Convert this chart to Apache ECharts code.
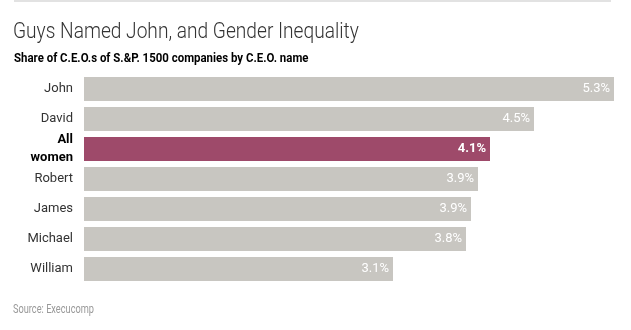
<!DOCTYPE html>
<html><head><meta charset="utf-8">
<script src="https://cdn.jsdelivr.net/npm/echarts@6/dist/echarts.min.js"></script>
<style>html,body{margin:0;padding:0;background:#fff}#c{width:631px;height:330px}</style>
</head><body><div id="c"></div>
<script>
const categories = ["John", "David", "All\nwomen", "Robert", "James", "Michael", "William"];
const values = [5.30, 4.50, 4.06, 3.94, 3.87, 3.82, 3.09];
const highlight = "All\nwomen";
const titleText = 'Guys Named John, and Gender Inequality';
const subtitleText = 'Share of C.E.O.s of S.&P. 1500 companies by C.E.O. name';
const sourceText = 'Source: Execucomp';

const chart = echarts.init(document.getElementById('c'), null, {renderer: 'canvas'});
chart.setOption({
  animation: false,
  graphic: [
    {type: 'rect', shape: {x: 14, y: 0, width: 597, height: 2}, style: {fill: '#e2e2e2'}},
    {type: 'text', x: 13, y: 21, scaleX: 0.87, originX: 0,
     style: {text: titleText, fontFamily: 'Roboto', fontWeight: 300, fontSize: 22, fill: '#333', verticalAlign: 'top'}},
    {type: 'text', x: 14, y: 52, scaleX: 0.88, originX: 0,
     style: {text: subtitleText, fontFamily: 'Roboto', fontWeight: 'bold', fontSize: 13, fill: '#000', verticalAlign: 'top'}},
    {type: 'text', x: 13, y: 303, scaleX: 0.71, originX: 0,
     style: {text: sourceText, fontFamily: 'Roboto', fontWeight: 'normal', fontSize: 13, fill: '#999', verticalAlign: 'top'}}
  ],
  grid: {left: 84, right: 17, top: 74, bottom: 46},
  xAxis: {type: 'value', min: 0, max: 5.3, show: false},
  yAxis: {
    type: 'category', data: categories, inverse: true,
    axisLine: {show: false}, axisTick: {show: false},
    axisLabel: {
      margin: 11, fontFamily: 'Roboto', fontSize: 13, color: '#333', lineHeight: 18,
      formatter: v => v === highlight ? '{b|' + v.replace('\n', '}\n{b|') + '}' : v,
      rich: {b: {fontWeight: 'bold', color: '#000', fontSize: 13, fontFamily: 'Roboto', lineHeight: 18}}
    }
  },
  series: [{
    type: 'bar', barWidth: 24,
    data: values.map((v, i) => ({
      value: v,
      itemStyle: {color: categories[i] === highlight ? '#9e4a6a' : '#c8c6c1'},
      label: categories[i] === highlight ? {fontWeight: 'bold'} : {}
    })),
    label: {
      show: true, position: 'insideRight', distance: 4, color: '#fff',
      fontFamily: 'Roboto', fontSize: 13,
      formatter: p => p.value.toFixed(1) + '%'
    }
  }]
});
</script></body></html>
